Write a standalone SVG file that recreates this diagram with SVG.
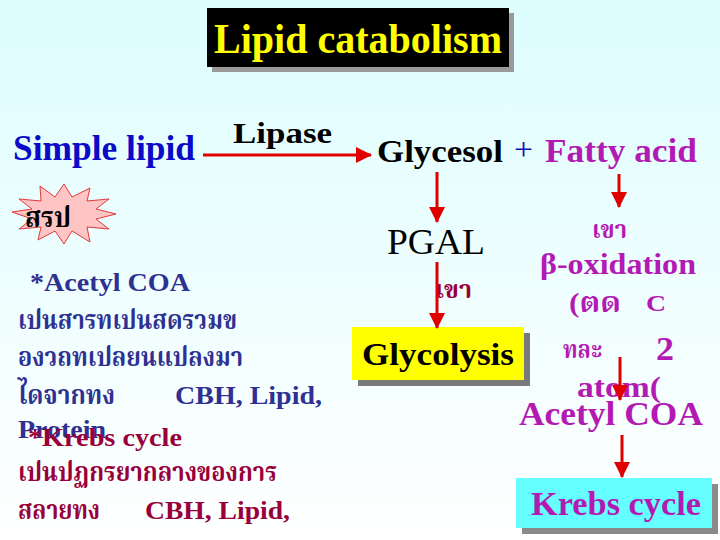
<svg xmlns="http://www.w3.org/2000/svg" width="720" height="540" viewBox="0 0 720 540">
<defs>
<linearGradient id="bg" x1="0" y1="0" x2="0" y2="1">
<stop offset="0" stop-color="#ddfdfe"/>
<stop offset="1" stop-color="#ffffff"/>
</linearGradient>
<marker id="ah" markerUnits="userSpaceOnUse" markerWidth="16" markerHeight="16" refX="15" refY="8" orient="auto" viewBox="0 0 16 16">
<path d="M0,0 L16,8 L0,16 Z" fill="#e00000"/>
</marker>
<style>
.b{font-weight:bold}
.navy{fill:#2e3192}
.dred{fill:#99003a}
.pur{fill:#b31ab3}
.arr{stroke:#e00000;stroke-width:3;fill:none;marker-end:url(#ah)}
</style>
</defs>
<rect width="720" height="540" fill="url(#bg)"/>

<g font-family="'Liberation Serif', 'Times New Roman', 'Noto Serif Thai', 'Noto Sans Thai', serif">
<g id="title">
<rect x="212" y="13" width="302" height="59" fill="#9a9a9a"/>
<rect x="207" y="8" width="302" height="59" fill="#000"/>
<text x="214" y="53" class="b" font-size="43" fill="#ffff00" textLength="288" lengthAdjust="spacingAndGlyphs">Lipid catabolism</text>
</g>

<g id="simple-lipid">
<text x="13" y="160" class="b" font-size="35" fill="#0a0ac8" textLength="182" lengthAdjust="spacingAndGlyphs">Simple lipid</text>
</g>

<g id="lipase">
<text x="233" y="143" class="b" font-size="30" fill="#000" textLength="99" lengthAdjust="spacingAndGlyphs">Lipase</text>
</g>

<g id="products">
<text x="377" y="162" class="b" font-size="32" fill="#000" textLength="126" lengthAdjust="spacingAndGlyphs">Glycesol</text>
<text x="514" y="160" font-size="32" fill="#1010b0" textLength="19" lengthAdjust="spacingAndGlyphs">+</text>
<text x="545" y="162" class="b pur" font-size="33" textLength="152" lengthAdjust="spacingAndGlyphs">Fatty acid</text>
</g>

<g id="summary">
<polygon points="116,214 96,219 109,229 87,227 90,242 72,231 64,244 55,231 38,240 41,227 19,229 32,219 12,212 32,209 19,199 41,201 40,186 55,197 64,184 72,197 90,188 87,201 109,199 96,209" fill="#ffc4c4" stroke="#e03a3a" stroke-width="1"/>
<text x="25" y="227" class="b" font-size="28" fill="#000" textLength="46" lengthAdjust="spacingAndGlyphs">สรป</text>
</g>

<g id="pgal">
<text x="387" y="254" font-size="35" fill="#000" textLength="98" lengthAdjust="spacingAndGlyphs">PGAL</text>
<text x="435" y="298" class="b dred" font-size="24" textLength="37" lengthAdjust="spacingAndGlyphs">เขา</text>
</g>

<g id="glycolysis">
<rect x="358" y="333" width="172" height="53" fill="#7a7a7a"/>
<rect x="352" y="327" width="172" height="53" fill="#ffff00"/>
<text x="362" y="365" class="b" font-size="31" fill="#000" textLength="152" lengthAdjust="spacingAndGlyphs">Glycolysis</text>
</g>

<g id="beta-oxidation">
<text x="592" y="238" class="b pur" font-size="24" textLength="35" lengthAdjust="spacingAndGlyphs">เขา</text>
<text x="540" y="274" class="b pur" font-size="30" textLength="156" lengthAdjust="spacingAndGlyphs">β-oxidation</text>
<text x="569" y="312" class="b pur" font-size="28" textLength="52" lengthAdjust="spacingAndGlyphs">(ตด</text>
<text x="646" y="311" class="b pur" font-size="24" textLength="20" lengthAdjust="spacingAndGlyphs">C</text>
<text x="563" y="358" class="b pur" font-size="24" textLength="39" lengthAdjust="spacingAndGlyphs">ทละ</text>
<text x="656" y="360" class="b pur" font-size="34" textLength="18" lengthAdjust="spacingAndGlyphs">2</text>
<text x="577" y="397" class="b pur" font-size="30" textLength="84" lengthAdjust="spacingAndGlyphs">atom(</text>
<text x="519" y="425" class="b pur" font-size="34" textLength="184" lengthAdjust="spacingAndGlyphs">Acetyl COA</text>
</g>

<g id="krebs">
<rect x="522" y="484" width="196" height="50" fill="#8a8a8a"/>
<rect x="516" y="478" width="196" height="50" fill="#66ffff"/>
<text x="531" y="515" class="b pur" font-size="34" textLength="170" lengthAdjust="spacingAndGlyphs">Krebs cycle</text>
</g>

<g id="notes">
<text x="30" y="291" class="b navy" font-size="25" textLength="160" lengthAdjust="spacingAndGlyphs">*Acetyl COA</text>
<text x="18" y="329" class="b navy" font-size="26" textLength="219" lengthAdjust="spacingAndGlyphs">เปนสารทเปนสดรวมข</text>
<text x="18" y="366" class="b navy" font-size="26" textLength="225" lengthAdjust="spacingAndGlyphs">องวถทเปลยนแปลงมา</text>
<text x="18" y="404" class="b navy" font-size="26" textLength="97" lengthAdjust="spacingAndGlyphs">ไดจากทง</text>
<text x="175" y="404" class="b navy" font-size="25" textLength="147" lengthAdjust="spacingAndGlyphs">CBH, Lipid,</text>
<text x="18" y="438" class="b navy" font-size="25" textLength="88" lengthAdjust="spacingAndGlyphs">Protein</text>
<text x="28" y="446" class="b dred" font-size="25" textLength="154" lengthAdjust="spacingAndGlyphs">*Krebs cycle</text>
<text x="18" y="481" class="b dred" font-size="26" textLength="259" lengthAdjust="spacingAndGlyphs">เปนปฏกรยากลางของการ</text>
<text x="18" y="519" class="b dred" font-size="26" textLength="82" lengthAdjust="spacingAndGlyphs">สลายทง</text>
<text x="145" y="519" class="b dred" font-size="25" textLength="145" lengthAdjust="spacingAndGlyphs">CBH, Lipid,</text>
<text x="18" y="558" class="b dred" font-size="25" textLength="88" lengthAdjust="spacingAndGlyphs">Protein</text>
</g>
</g>

<g id="connectors">
<line class="arr" x1="203" y1="155" x2="371" y2="155"/>
<line class="arr" x1="437" y1="172" x2="437" y2="222"/>
<line class="arr" x1="619" y1="174" x2="619" y2="207"/>
<line class="arr" x1="437" y1="262" x2="437" y2="328"/>
<line class="arr" x1="620" y1="357" x2="620" y2="400"/>
<line class="arr" x1="622" y1="435" x2="622" y2="477"/>
</g>
</svg>
